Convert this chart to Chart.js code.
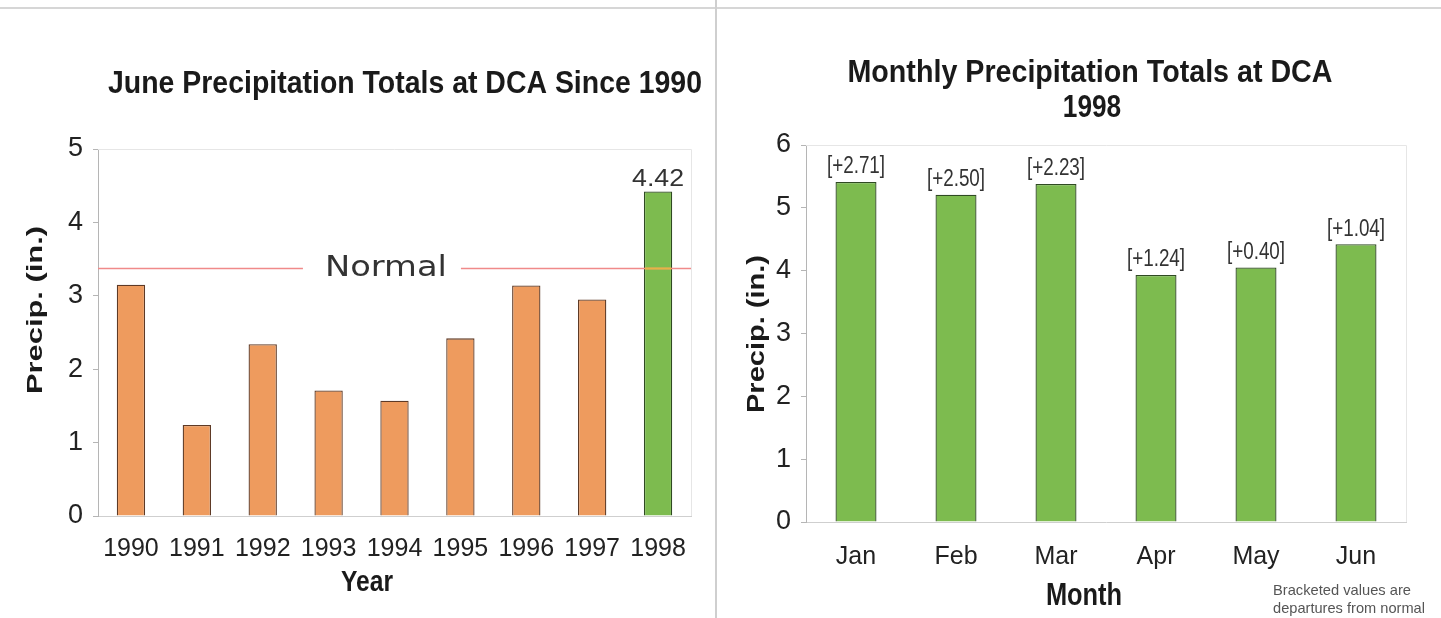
<!DOCTYPE html>
<html>
<head>
<meta charset="utf-8">
<script src="https://cdn.jsdelivr.net/npm/chart.js@4/dist/chart.umd.min.js"></script>
<style>
  html, body { margin: 0; padding: 0; background: #fff; }
  body { width: 1441px; height: 618px; position: relative; overflow: hidden; }
  #left  { position: absolute; left: 0;   top: 0; }
  #right { position: absolute; left: 718px; top: 0; }
  .rule-top { position: absolute; left: 0; top: 7px; width: 1441px; height: 2px; background: #d6d6d6; }
  .rule-mid { position: absolute; left: 715px; top: 0; width: 2px; height: 618px; background: #cfcfcf; }
</style>
</head>
<body>
<div class="rule-top"></div>
<div class="rule-mid"></div>
<canvas id="left" width="716" height="618"></canvas>
<canvas id="right" width="723" height="618"></canvas>
<script>
// ─── Data ──────────────────────────────────────────────────────
const years = ['1990', '1991', '1992', '1993', '1994', '1995', '1996', '1997', '1998'];
const juneTotals = [3.15, 1.24, 2.34, 1.71, 1.57, 2.42, 3.14, 2.95, 4.42];
const juneNormal = 3.38;
const juneTicks = [0, 1, 2, 3, 4, 5];

const months = ['Jan', 'Feb', 'Mar', 'Apr', 'May', 'Jun'];
const monthTotals = [5.41, 5.21, 5.38, 3.93, 4.05, 4.42];
const departures = ['+2.71', '+2.50', '+2.23', '+1.24', '+0.40', '+1.04'];
const monthTicks = [0, 1, 2, 3, 4, 5, 6];

// ─── Styles ────────────────────────────────────────────────────
// no Arial Narrow here, so the narrow text is Liberation Sans squeezed sideways
const SANS = '"Liberation Sans", Arial, sans-serif';
const NARROW = 0.82;
const ORANGE = '#ee9b5e', ORANGE_EDGE = '#5e3a26';
const GREEN = '#7dbb4f', GREEN_EDGE = '#2f4a22';

// opts: align, rot, sx (horizontal squeeze), width (fit to a width)
function text(ctx, str, x, y, font, color, opts = {}) {
    ctx.save();
    ctx.font = font;
    ctx.fillStyle = color || '#1a1a1a';
    ctx.textAlign = opts.align || 'center';
    ctx.textBaseline = 'middle';
    ctx.translate(x, y);
    if (opts.rot) ctx.rotate(opts.rot);
    let sx = opts.sx || 1;
    if (opts.width) sx = opts.width / ctx.measureText(str).width;
    ctx.scale(sx, 1);
    ctx.fillText(str, 0, 0);
    ctx.restore();
}

// light frame on top/right of the plot area, like the original
function drawFrame(chart) {
    const { ctx, chartArea: a } = chart;
    ctx.save();
    ctx.strokeStyle = '#e6e6e6';
    ctx.lineWidth = 1;
    ctx.beginPath();
    ctx.moveTo(a.left, a.top + 0.5);
    ctx.lineTo(a.right + 0.5, a.top + 0.5);
    ctx.lineTo(a.right + 0.5, a.bottom);
    ctx.stroke();
    ctx.restore();
}

function baseOptions(ticks, padRight, top, axisWidth, xHeight, xPad) {
    return {
        responsive: false,
        animation: false,
        devicePixelRatio: 1,
        layout: { padding: { left: 0, right: padRight, top: top, bottom: 0 } },
        plugins: { legend: { display: false }, tooltip: { enabled: false }, title: { display: false } },
        scales: {
            x: {
                grid: { display: false },
                border: { display: true, color: '#cfcfcf' },
                ticks: { color: '#222', font: { family: SANS, size: 25 }, padding: xPad, maxRotation: 0, autoSkip: false },
                afterFit: s => { s.height = xHeight; }
            },
            y: {
                min: ticks[0],
                max: ticks[ticks.length - 1],
                afterBuildTicks: s => { s.ticks = ticks.map(v => ({ value: v })); },
                grid: { drawOnChartArea: false, drawTicks: true, tickLength: 5, color: '#b5b5b5' },
                border: { display: true, color: '#b5b5b5' },
                ticks: { color: '#222', font: { family: SANS, size: 27 }, padding: 10 },
                afterFit: s => { s.width = axisWidth; }
            }
        }
    };
}

// ─── Left: June totals since 1990 ──────────────────────────────
const lastYear = years.length - 1;
const leftExtras = {
    id: 'leftExtras',
    beforeDatasetsDraw(chart) { drawFrame(chart); },
    afterDatasetsDraw(chart) {
        const { ctx, chartArea: a, scales } = chart;
        const y = Math.round(scales.y.getPixelForValue(juneNormal)) + 0.5;
        const labelX = scales.x.getPixelForValue(3.87);
        ctx.save();
        ctx.lineWidth = 1.5;
        ctx.strokeStyle = '#f08a8a';
        ctx.beginPath();
        ctx.moveTo(a.left, y); ctx.lineTo(labelX - 83, y);
        ctx.moveTo(labelX + 75, y); ctx.lineTo(a.right, y);
        ctx.stroke();
        // where the line crosses a bar above normal it shows through in amber
        const meta = chart.getDatasetMeta(0);
        juneTotals.forEach((v, i) => {
            if (v <= juneNormal) return;
            const bar = meta.data[i];
            ctx.strokeStyle = '#e8b246';
            ctx.lineWidth = 2;
            ctx.beginPath();
            ctx.moveTo(bar.x - bar.width / 2 + 1, y); ctx.lineTo(bar.x + bar.width / 2 - 1, y);
            ctx.stroke();
        });
        ctx.restore();
        text(ctx, 'Normal', labelX, y, '28px "DejaVu Sans", sans-serif', '#333', { width: 122 });

        const top = meta.data[lastYear];
        text(ctx, juneTotals[lastYear].toFixed(2), top.x, top.y - 12, '24px ' + SANS, '#333', { width: 52 });
    },
    afterDraw(chart) {
        const { ctx } = chart;
        text(ctx, 'June Precipitation Totals at DCA Since 1990', 405, 84, 'bold 32px ' + SANS, '#1a1a1a', { width: 594 });
        text(ctx, 'Precip. (in.)', 36, 310, 'bold 22px ' + SANS, '#1a1a1a', { rot: -Math.PI / 2, width: 168 });
        text(ctx, 'Year', 367, 583, 'bold 30px ' + SANS, '#1a1a1a', { sx: NARROW });
    }
};

new Chart(document.getElementById('left'), {
    type: 'bar',
    data: {
        labels: years,
        datasets: [{
            data: juneTotals,
            backgroundColor: juneTotals.map((v, i) => i === lastYear ? GREEN : ORANGE),
            borderColor: juneTotals.map((v, i) => i === lastYear ? GREEN_EDGE : ORANGE_EDGE),
            borderWidth: 1.3,
            barPercentage: 0.86,
            categoryPercentage: 0.5
        }]
    },
    options: baseOptions(juneTicks, 25, 149, 98, 102, 10),
    plugins: [leftExtras]
});

// ─── Right: monthly totals for 1998 ────────────────────────────
const rightExtras = {
    id: 'rightExtras',
    beforeDatasetsDraw(chart) { drawFrame(chart); },
    afterDatasetsDraw(chart) {
        const { ctx } = chart;
        const meta = chart.getDatasetMeta(0);
        departures.forEach((d, i) => {
            const bar = meta.data[i];
            text(ctx, '[' + d + ']', bar.x, bar.y - 15, '23px ' + SANS, '#333', { sx: NARROW });
        });
    },
    afterDraw(chart) {
        const { ctx } = chart;
        text(ctx, 'Monthly Precipitation Totals at DCA', 372, 73, 'bold 32px ' + SANS, '#1a1a1a', { width: 485 });
        text(ctx, '1998', 374, 108, 'bold 32px ' + SANS, '#1a1a1a', { sx: NARROW });
        text(ctx, 'Precip. (in.)', 39, 334, 'bold 24px ' + SANS, '#1a1a1a', { rot: -Math.PI / 2, width: 158 });
        text(ctx, 'Month', 366, 596, 'bold 31px ' + SANS, '#1a1a1a', { sx: NARROW });
        text(ctx, 'Bracketed values are', 555, 591, '15px ' + SANS, '#555', { align: 'left', width: 138 });
        text(ctx, 'departures from normal', 555, 609, '15px ' + SANS, '#555', { align: 'left', width: 152 });
    }
};

new Chart(document.getElementById('right'), {
    type: 'bar',
    data: {
        labels: months,
        datasets: [{
            data: monthTotals,
            backgroundColor: GREEN,
            borderColor: GREEN_EDGE,
            borderWidth: 1.3,
            barPercentage: 0.82,
            categoryPercentage: 0.5
        }]
    },
    options: baseOptions(monthTicks, 35, 145, 88, 96, 12),
    plugins: [rightExtras]
});
</script>
</body>
</html>
